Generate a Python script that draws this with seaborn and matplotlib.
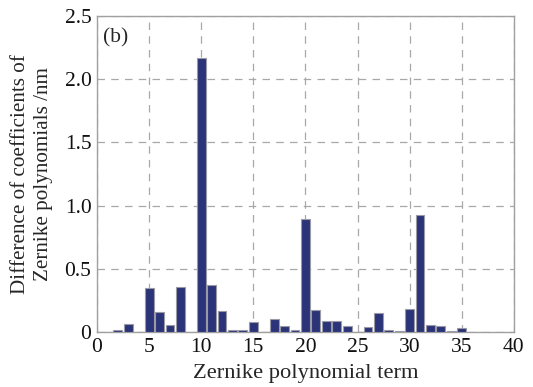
import numpy as np
import pandas as pd
import seaborn as sns
import matplotlib.pyplot as plt
from matplotlib.ticker import FuncFormatter

# Zernike term index and coefficient difference (nm)
terms = list(range(1, 36))
diff = [0.0, 0.02, 0.06, 0.0, 0.345, 0.155, 0.053, 0.36, 0.0, 2.165,
        0.375, 0.17, 0.02, 0.013, 0.08, 0.0, 0.10, 0.045, 0.02, 0.89,
        0.174, 0.087, 0.087, 0.045, 0.0, 0.037, 0.148, 0.013, 0.008, 0.185,
        0.925, 0.058, 0.05, 0.008, 0.03]

data = pd.DataFrame({'term': terms, 'diff': diff})

sns.set_style('white')
plt.rcParams['font.family'] = ['Liberation Serif', 'DejaVu Serif']

fig = plt.figure(figsize=(5.33, 3.87), dpi=100)
ax = fig.add_axes([0.182, 0.142, 0.782, 0.817])

sns.barplot(data=data, x='term', y='diff', native_scale=True, width=0.85,
            color='#2b3478', saturation=1, edgecolor='#9a9aa6', linewidth=0.8,
            ax=ax, zorder=3)

ax.set_xlim(0, 40)
ax.set_ylim(0, 2.5)
ax.set_xticks(np.arange(0, 41, 5))
ax.set_yticks(np.arange(0, 2.51, 0.5))
ax.yaxis.set_major_formatter(FuncFormatter(lambda v, p: '0' if v == 0 else f'{v:.1f}'))
ax.xaxis.set_major_formatter(FuncFormatter(lambda v, p: f'{int(v)}'))

ax.grid(True, linestyle=(0, (6, 5)), color='#a8a8a8', linewidth=0.9, zorder=0)
for s in ax.spines.values():
    s.set_color('#a0a0a0')
    s.set_linewidth(1.0)
ax.tick_params(direction='in', length=3, color='#a0a0a0', labelsize=15.5, pad=4,
               labelcolor='#111111')

ax.set_xlabel('Zernike polynomial term', fontsize=16.2, labelpad=5)
ax.set_ylabel('Difference of coefficients of\nZernike polynomials /nm', fontsize=15.2,
              labelpad=8, linespacing=1.3)
ax.text(0.6, 2.33, '(b)', fontsize=15.5, va='center', ha='left')

fig.savefig('out.png', dpi=100)
